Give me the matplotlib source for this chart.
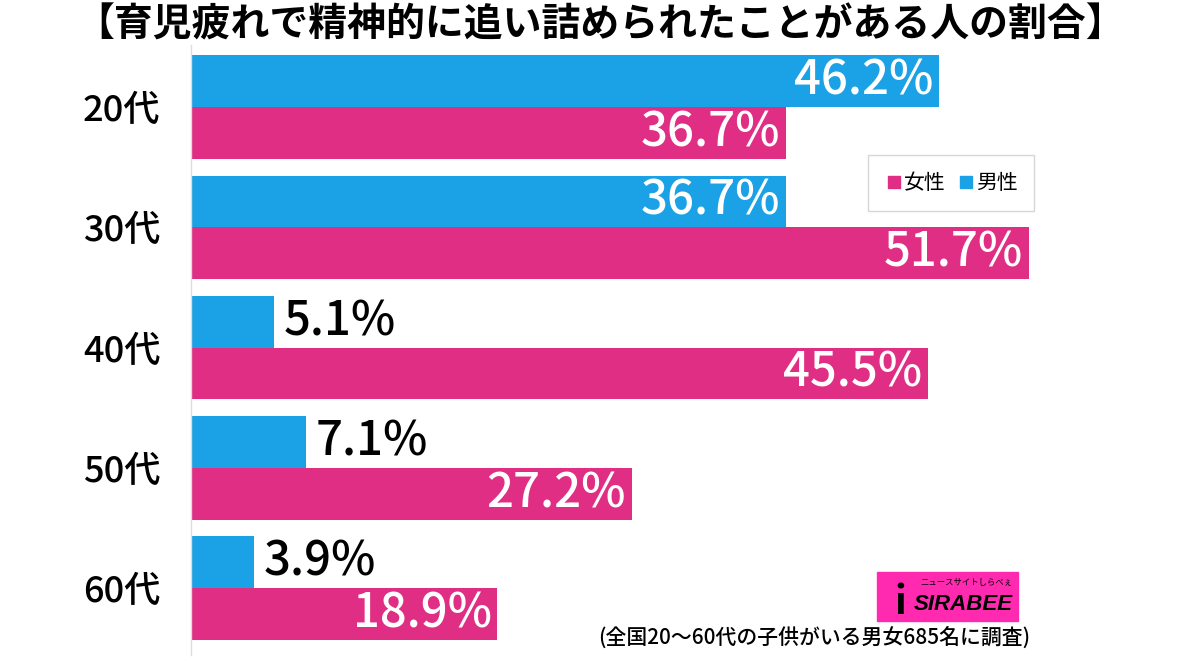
import matplotlib
matplotlib.use("Agg")
import matplotlib.pyplot as plt
import numpy as np
from matplotlib.patches import Rectangle
from matplotlib.lines import Line2D

plt.rcParams['font.family'] = ['Noto Sans CJK JP', 'DejaVu Sans']

# data
ages = ["20代", "30代", "40代", "50代", "60代"]
male = [46.2, 36.7, 5.1, 7.1, 3.9]      # 男性
female = [36.7, 51.7, 45.5, 27.2, 18.9]  # 女性

blue = "#1ba1e6"
pink = "#df2e83"

fig = plt.figure(figsize=(12, 6.61), dpi=100)
# axes spans x 191..1200 px, y 45..655 px
ax = fig.add_axes([191 / 1200, 6 / 661, 1 - 191 / 1200, 610 / 661])

y = np.arange(len(ages))
h = 0.43
ax.barh(y - h / 2, male, height=h, color=blue, label="男性")
ax.barh(y + h / 2, female, height=h, color=pink, label="女性")

for i in range(len(ages)):
    for v, yy in ((male[i], y[i] - h / 2), (female[i], y[i] + h / 2)):
        s = f"{v:.1f}%"
        if v > 10:
            ax.text(v - 0.35, yy, s, ha="right", va="center", color="white",
                    fontsize=34, fontweight="medium")
        else:
            ax.text(v + 0.6, yy, s, ha="left", va="center", color="black",
                    fontsize=34, fontweight="medium")

ax.set_xlim(0, 1009 / 16.2)
ax.set_ylim(4.555, -0.515)
ax.set_yticks(y)
ax.set_yticklabels(ages, fontsize=26, fontweight="medium")
ax.tick_params(axis="y", length=0, pad=22)
ax.set_xticks([])
for sp in ["top", "right", "bottom"]:
    ax.spines[sp].set_visible(False)
ax.spines["left"].set_color("#dddddd")
ax.spines["left"].set_linewidth(1)

fig.text(0.5, 0.962, "【育児疲れで精神的に追い詰められたことがある人の割合】",
         ha="center", va="center", fontsize=28, fontweight="bold")

handles = [Line2D([], [], marker="s", ls="", color=pink, markersize=9, label="女性"),
           Line2D([], [], marker="s", ls="", color=blue, markersize=9, label="男性")]
leg = fig.legend(handles=handles, loc="center", bbox_to_anchor=(951 / 1200, 1 - 183 / 661),
                 ncol=2, fontsize=15, frameon=True, fancybox=False, handletextpad=0.05,
                 columnspacing=0.5, borderpad=0.8, handlelength=0.9)
leg.get_frame().set_edgecolor("#cccccc")
leg.get_frame().set_linewidth(1)

# logo
fig.patches.append(Rectangle((877 / 1200, 1 - 621 / 661), 141 / 1200, 49 / 661,
                             transform=fig.transFigure, color="#ff2ab0", zorder=5))
fig.text(900 / 1200, 1 - 603 / 661, "i", fontsize=28, fontweight="bold",
         ha="center", va="center", zorder=6, color="black")
fig.text(914 / 1200, 1 - 605 / 661, "SIRABEE", fontsize=16, fontweight="bold",
         style="italic", ha="left", va="center", zorder=6, fontfamily=["Liberation Sans"])
fig.text(966 / 1200, 1 - 583 / 661, "ニュースサイトしらべぇ", fontsize=6,
         ha="center", va="center", zorder=6)

fig.text(1030 / 1200, 1 - 639 / 661, "(全国20～60代の子供がいる男女685名に調査)",
         ha="right", va="center", fontsize=15, fontweight="medium")

fig.savefig("out.png", dpi=100, facecolor="white")
